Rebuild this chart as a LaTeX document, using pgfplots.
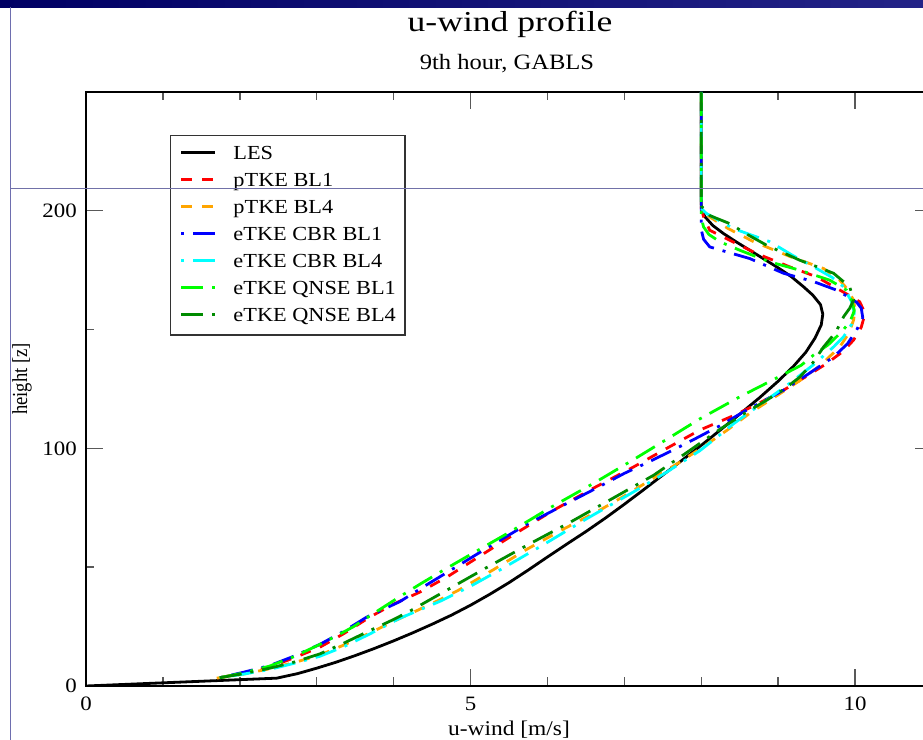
\documentclass[border=0pt]{standalone}
\usepackage{fontspec}
\setmainfont{Liberation Serif}[FakeStretch=1.12]
\newfontfamily\plainserif{Liberation Serif}
\usepackage{graphicx}
\usepackage{pgfplots}
\pgfplotsset{compat=1.18}

\definecolor{gorange}{RGB}{255,165,0}
\definecolor{ggreen}{RGB}{0,255,0}
\definecolor{ggreenfour}{RGB}{0,139,0}
\definecolor{gcyan}{RGB}{0,255,255}
\definecolor{barleft}{RGB}{0,0,100}
\definecolor{barright}{RGB}{35,35,135}
\definecolor{frameline}{RGB}{110,110,175}

\tikzset{
  dashes/.style={dash pattern=on 11bp off 10bp},
  dotdash/.style={dash pattern=on 3bp off 9bp on 22bp off 9bp},
  dashdot/.style={dash pattern=on 22bp off 9bp on 3bp off 9bp},
  prof/.style={line width=2.8bp, line join=round},
}

\begin{document}
\begin{tikzpicture}[x=1bp,y=1bp]
% window bar and frame lines
\shade[left color=barleft, right color=barright] (0,732.5) rectangle (923,740);
\draw[frameline, line width=1bp] (10.5,0) -- (10.5,732.5);

\begin{axis}[
  at={(86bp,54bp)}, anchor=south west,
  width=846bp, height=594bp, scale only axis,
  xmin=0, xmax=11, ymin=0, ymax=250,
  xtick={0,5,10}, minor xtick={1,2,3,4,6,7,8,9},
  ytick={0,100,200}, minor ytick={50,150},
  tick align=inside,
  major tick length=17bp, minor tick length=8.5bp,
  every tick/.style={line width=1.4bp, black!65},
  axis line style={line width=1.6bp, black},
  /pgf/number format/assume math mode=true,
  tick label style={font=\fontsize{20.5}{24}\selectfont},
  xticklabel style={inner sep=0pt, anchor=north, yshift=-11bp},
  yticklabel style={inner sep=0pt, anchor=east, xshift=-9bp},
  xlabel={u-wind [m/s]},
  xlabel style={at={(axis description cs:0.5,0)}, anchor=base, yshift=-50bp,
    inner sep=0pt, font=\fontsize{21}{25}\selectfont},
  ylabel={\scalebox{1}[1.15]{height [z]}},
  ylabel style={at={(axis description cs:-0.0757,0.517)}, anchor=center,
    inner sep=0pt, font=\plainserif\fontsize{18.7}{22}\selectfont},
  legend cell align=left,
  legend image code/.code={%
    \draw[#1] (0bp,1.5bp) -- (34bp,1.5bp);
    \path (51bp,1.5bp);},
  legend style={at={(axis description cs:0.0993,0.9276)}, anchor=north west,
    draw=black!80, line width=1.3bp, fill=white,
    font=\fontsize{20}{24}\selectfont,
    inner xsep=9bp, inner ysep=9.5bp, row sep=8.5bp,
    nodes={inner sep=0pt, text height=14bp, text depth=4.5bp}},
]

% LES
\addplot[prof, black] coordinates {
 (0,0) (2.48,3.3) (2.75,5.2) (3.0,7.5) (3.25,10) (3.5,12.8) (3.75,15.8)
 (4.0,19) (4.25,22.4) (4.5,26) (4.75,29.8) (5.0,34) (5.25,38.6) (5.5,43.5)
 (5.75,48.8) (6.0,54.3) (6.25,59.7) (6.5,65) (6.75,70.6) (7.0,76.5)
 (7.25,82.6) (7.5,88.8) (7.75,95) (8.0,101.3) (8.25,107.8) (8.5,114.4)
 (8.76,121.4) (9.0,128.3) (9.2,134.6) (9.36,140.5) (9.48,146.5) (9.56,152)
 (9.58,156.5) (9.55,160.5) (9.45,164.5) (9.33,168) (9.17,172.3) (8.98,176.4)
 (8.8,180) (8.63,183.4) (8.45,187) (8.29,190.4) (8.15,193.8) (8.05,197.4)
 (8.01,200) (8.0,203) (8.0,250)};
\addlegendentry{LES}

% pTKE BL1
\addplot[prof, red, dashes] coordinates {
 (1.74,3.5) (2.05,5.5) (2.39,8) (2.7,11.8) (3.04,16.3) (3.35,22) (3.69,29)
 (4.0,34.5) (4.34,39.5) (4.7,46) (5.04,53) (5.55,63.5) (6.08,74) (6.6,83.3)
 (7.12,92.2) (7.55,100) (7.98,107.7) (8.42,113.8) (8.75,119) (9.07,124.5)
 (9.35,130) (9.63,135.7) (9.85,141) (9.98,145.6) (10.08,151) (10.13,156.8)
 (10.06,161.7) (9.89,165) (9.7,168.5) (9.5,172.2) (9.15,176.4) (8.72,182)
 (8.37,187.6) (8.11,191.8) (8.03,197.5) (8.0,201) (8.0,250)};
\addlegendentry{pTKE BL1}

% pTKE BL4
\addplot[prof, gorange, dashes] coordinates {
 (1.7,3.3) (2.05,5) (2.39,7.3) (2.7,9.8) (3.04,13) (3.35,17.2) (3.69,22.3)
 (4.0,27.2) (4.34,32.3) (4.6,36.3) (4.86,40.6) (5.3,49) (5.73,57.5)
 (6.2,65.9) (6.68,74) (7.0,80) (7.33,86.5) (7.7,93.8) (8.05,101.2)
 (8.35,108) (8.63,114.8) (8.95,121.5) (9.28,128.5) (9.55,135) (9.8,142.7)
 (9.92,148.5) (9.98,154) (10.0,158.5) (9.98,162.4) (9.9,167) (9.8,170.8)
 (9.59,175.7) (9.15,180.8) (8.68,187) (8.35,192.5) (8.11,197.4) (8.0,200.5)
 (8.0,250)};
\addlegendentry{pTKE BL4}

% eTKE CBR BL1
\addplot[prof, blue, dotdash] coordinates {
 (1.74,3.5) (2.05,5.8) (2.39,8.6) (2.7,12.5) (3.04,17.5) (3.35,23) (3.65,29)
 (4.08,35.5) (4.4,42) (4.73,48.5) (5.17,57.2) (5.73,68) (6.25,76.8) (6.68,84)
 (7.0,89.5) (7.33,94.5) (7.55,98) (7.9,103.7) (8.24,109.5) (8.55,115.4)
 (9.07,124.5) (9.4,131.5) (9.72,138.5) (9.9,144) (10.02,149.8) (10.1,155)
 (10.08,159) (10.02,161.5) (9.9,164) (9.76,166.6) (9.46,170.2) (9.07,173.7)
 (8.63,179.9) (8.33,182.7) (8.11,184.8) (8.03,188) (8.0,192) (8.0,250)};
\addlegendentry{eTKE CBR BL1}

% eTKE CBR BL4
\addplot[prof, gcyan, dotdash] coordinates {
 (1.74,3.5) (2.05,5) (2.39,7) (2.7,9.5) (3.04,12.5) (3.35,16.5) (3.69,21.9)
 (4.08,28.5) (4.6,35.6) (5.0,42) (5.38,48.8) (5.95,59.5) (6.51,70.4)
 (7.12,81.7) (7.55,90) (7.98,99) (8.2,104.6) (8.42,110.4) (8.8,119.2)
 (9.15,127.4) (9.45,135) (9.72,142.7) (9.85,147) (9.95,152) (9.99,157)
 (9.95,162) (9.85,168) (9.7,172) (9.5,175.7) (9.2,181) (8.89,187)
 (8.42,192.5) (8.07,198.8) (8.0,201) (8.0,250)};
\addlegendentry{eTKE CBR BL4}

% eTKE QNSE BL1
\addplot[prof, ggreen, dashdot] coordinates {
 (1.74,3.5) (2.05,5.5) (2.39,8.4) (2.7,12.3) (3.04,17.5) (3.28,21.5)
 (3.48,25) (3.69,29.5) (4.08,37.6) (4.35,43) (4.65,48.8) (4.95,54.4)
 (5.5,64.6) (6.05,75.3) (6.6,85.3) (7.12,95.3) (7.55,103.8) (7.98,112.4)
 (8.5,121.7) (9.02,130.3) (9.3,135) (9.46,139.3) (9.65,143.6) (9.8,148.3)
 (9.93,153) (9.99,158) (9.96,162) (9.89,166.6) (9.67,170.8) (9.28,175)
 (8.89,178.5) (8.5,183.4) (8.24,187) (8.1,190) (8.03,193.2) (8.0,197)
 (8.0,250)};
\addlegendentry{eTKE QNSE BL1}

% eTKE QNSE BL4
\addplot[prof, ggreenfour, dashdot] coordinates {
 (1.74,3.5) (2.05,5.2) (2.39,7.5) (2.7,10) (3.04,13.5) (3.35,18) (3.69,23.3)
 (4.0,28) (4.21,31.5) (4.7,40.5) (5.19,49.5) (5.75,59.5) (6.3,69) (6.85,79)
 (7.38,88.7) (7.8,98) (8.24,108) (8.55,114.5) (8.85,120.3) (9.08,125)
 (9.28,130) (9.45,136) (9.59,142.7) (9.75,149) (9.85,155.4) (9.93,159)
 (9.98,162.4) (9.93,168) (9.72,173.7) (9.5,176.5) (9.28,179.2) (8.85,185.5)
 (8.6,190) (8.37,194.6) (8.11,198) (8.0,202) (8.0,250)};
\addlegendentry{eTKE QNSE BL4}
\end{axis}

% titles
\node[anchor=base, inner sep=0pt, font=\fontsize{29}{35}\selectfont] at (510,708)
  {\scalebox{1.1}[1]{u-wind profile}};
\node[anchor=base, inner sep=0pt, font=\fontsize{22}{26}\selectfont] at (507,670) {9th hour, GABLS};

% window guide line
\draw[frameline!85!gray, line width=1bp] (10.5,551) -- (923,551);

\pgfresetboundingbox
\useasboundingbox (0,0) rectangle (923,740);
\end{tikzpicture}
\end{document}
